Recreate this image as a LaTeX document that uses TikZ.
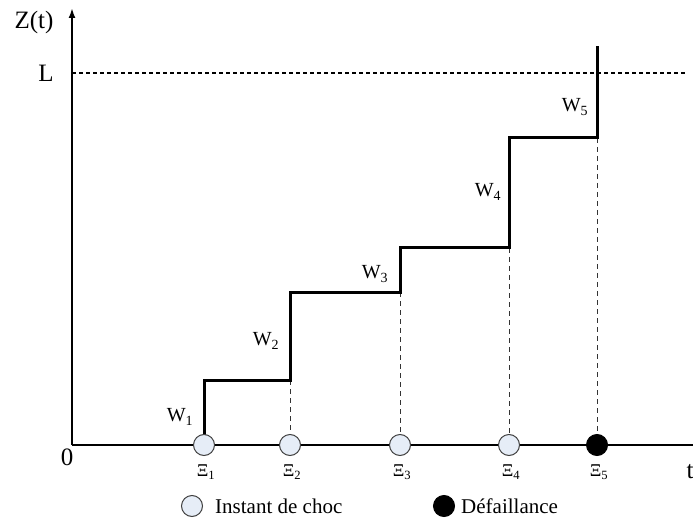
\documentclass[tikz,border=0pt]{standalone}
\usepackage{fontspec}
\setmainfont{Liberation Serif}
\usetikzlibrary{arrows.meta,positioning,calc}
\definecolor{chocfill}{RGB}{230,237,247}
\definecolor{chocline}{RGB}{64,64,64}

\tikzset{
  choc/.style={draw=chocline, line width=1pt, circle, fill=chocfill, minimum size=21pt, inner sep=0pt},
  panne/.style={draw=black, line width=1pt, circle, fill=black, minimum size=21pt, inner sep=0pt},
  stair/.style={line width=3pt, line cap=rect},
  guide/.style={line width=0.8pt, dashed, dash pattern=on 5pt off 4pt, black!80},
  biglbl/.style={font=\fontsize{25}{28}\selectfont},
  lbl/.style={font=\fontsize{20}{22}\selectfont},
  leglbl/.style={font=\fontsize{21}{24}\selectfont, inner sep=0pt},
  xilbl/.style={font=\fontsize{18}{20}\selectfont}
}

\begin{document}
\begin{tikzpicture}[x=1pt,y=-1pt]
  \useasboundingbox (0,0) rectangle (693,521);

  % axes
  \coordinate (origin) at (72,445);
  \coordinate (ytop) at (72,8);
  \coordinate (xend) at (693,445);
  \coordinate (lleft) at (72,73);
  \coordinate (lright) at (686,73);
  \draw[line width=2pt] (xend) -- (origin);
  \draw[line width=2pt, -{Latex[length=10pt,width=7pt]}] (origin) -- (ytop);
  \draw[line width=1.5pt, dash pattern=on 4pt off 3pt] (lleft) -- (lright);

  \node[biglbl] (zt) at (34,22) {Z(t)};
  \node[biglbl] (lev) at (46,73) {L};
  \node[biglbl] (zero) at (67,457) {0};
  \node[biglbl] (tt) at (690,472) {t};

  % shock instants on the time axis
  \coordinate (p1) at (204,445);
  \coordinate (p2) at (290,445);
  \coordinate (p3) at (400,445);
  \coordinate (p4) at (509,445);
  \coordinate (p5) at (597,445);

  % corners of the degradation path
  \coordinate (c1) at (204,380);
  \coordinate (c2) at (290,380);
  \coordinate (c3) at (290,292);
  \coordinate (c4) at (400,292);
  \coordinate (c5) at (400,248);
  \coordinate (c6) at (509,248);
  \coordinate (c7) at (509,138);
  \coordinate (c8) at (597,138);
  \coordinate (top) at (597,48);

  % dashed guides down to the axis
  \draw[guide] (c2) -- (p2);
  \draw[guide] (c4) -- (p3);
  \draw[guide] (c6) -- (p4);
  \draw[guide] (c8) -- (p5);

  % staircase
  \draw[stair] (p1) -- (c1) -- (c2) -- (c3) -- (c4) -- (c5) -- (c6) -- (c7) -- (c8) -- (top);

  % shock markers
  \node[choc] (s1) at (p1) {};
  \node[choc] (s2) at (p2) {};
  \node[choc] (s3) at (p3) {};
  \node[choc] (s4) at (p4) {};
  \node[panne] (s5) at (p5) {};

  \node[xilbl] (xi1) at (206,472) {Ξ\textsubscript{1}};
  \node[xilbl] (xi2) at (292,472) {Ξ\textsubscript{2}};
  \node[xilbl] (xi3) at (402,472) {Ξ\textsubscript{3}};
  \node[xilbl] (xi4) at (511,472) {Ξ\textsubscript{4}};
  \node[xilbl] (xi5) at (599,472) {Ξ\textsubscript{5}};

  % shock sizes
  \node[lbl] (w1) at (180,417) {W\textsubscript{1}};
  \node[lbl] (w2) at (266,341) {W\textsubscript{2}};
  \node[lbl] (w3) at (375,274) {W\textsubscript{3}};
  \node[lbl] (w4) at (488,192) {W\textsubscript{4}};
  \node[lbl] (w5) at (575,107) {W\textsubscript{5}};

  % legend
  \node[choc] (legchoc) at (192,506) {};
  \node[leglbl, right=12pt of legchoc] (legchoctxt) {Instant de choc};
  \node[panne] (legpanne) at (444,506) {};
  \node[leglbl, right=6pt of legpanne] (legpannetxt) {Défaillance};
\end{tikzpicture}
\end{document}
